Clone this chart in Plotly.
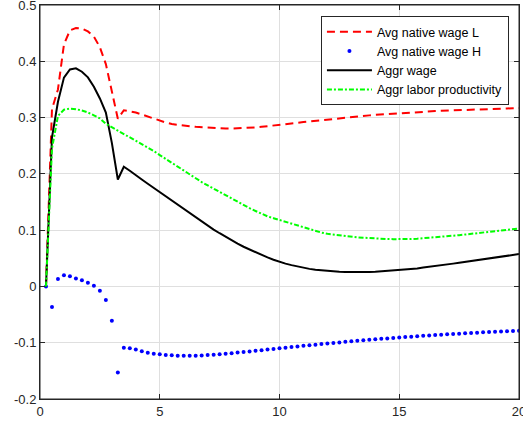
import plotly.graph_objects as go

t = [0.25, 0.5, 0.75, 1.0, 1.25, 1.5, 1.75, 2.0, 2.25, 2.5, 2.75, 3.0, 3.25, 3.5, 3.75, 4.0,
     4.25, 4.5, 4.75, 5.0, 5.25, 5.5, 5.75, 6.0, 6.25, 6.5, 6.75, 7.0, 7.25, 7.5, 7.75, 8.0,
     8.25, 8.5, 8.75, 9.0, 9.25, 9.5, 9.75, 10.0, 10.25, 10.5, 10.75, 11.0, 11.25, 11.5, 11.75, 12.0,
     12.25, 12.5, 12.75, 13.0, 13.25, 13.5, 13.75, 14.0, 14.25, 14.5, 14.75, 15.0, 15.25, 15.5, 15.75, 16.0,
     16.25, 16.5, 16.75, 17.0, 17.25, 17.5, 17.75, 18.0, 18.25, 18.5, 18.75, 19.0, 19.25, 19.5, 19.75, 20.0]

wage_L = [0.0, 0.315, 0.35, 0.43, 0.455, 0.459, 0.458, 0.453, 0.444, 0.425, 0.395, 0.345, 0.298, 0.313, 0.3115, 0.309,
          0.3055, 0.302, 0.298, 0.294, 0.2912, 0.2885, 0.2868, 0.2855, 0.2845, 0.2835, 0.2827, 0.282, 0.2814, 0.2808, 0.2806, 0.2805,
          0.2807, 0.281, 0.2817, 0.2825, 0.2835, 0.2845, 0.2857, 0.287, 0.2882, 0.2895, 0.2907, 0.292, 0.2932, 0.2945, 0.2957, 0.2968,
          0.2979, 0.299, 0.300, 0.301, 0.302, 0.303, 0.3039, 0.3048, 0.3056, 0.3064, 0.3072, 0.308, 0.3087, 0.3093, 0.3099, 0.3105,
          0.311, 0.3115, 0.312, 0.3125, 0.313, 0.3134, 0.3138, 0.3142, 0.3146, 0.315, 0.3153, 0.3156, 0.3159, 0.3162, 0.3165, 0.3168]

wage_H = [0.0, -0.0366, 0.013, 0.020, 0.018, 0.0143, 0.0108, 0.0066, 0.0013, -0.0076, -0.024, -0.061, -0.153, -0.109, -0.110, -0.112,
          -0.115, -0.118, -0.1195, -0.1207, -0.122, -0.1224, -0.123, -0.1232, -0.1232, -0.123, -0.1227, -0.122, -0.1213, -0.1205, -0.1196, -0.1186,
          -0.1176, -0.1165, -0.1154, -0.1143, -0.1132, -0.1121, -0.111, -0.1099, -0.1088, -0.1077, -0.1066, -0.1055, -0.1044, -0.1034, -0.1024, -0.1014,
          -0.1004, -0.0994, -0.0984, -0.0975, -0.0966, -0.0957, -0.0948, -0.0939, -0.0931, -0.0923, -0.0915, -0.0907, -0.0899, -0.0892, -0.0885, -0.0878,
          -0.0871, -0.0864, -0.0857, -0.0851, -0.0845, -0.0839, -0.0833, -0.0827, -0.0821, -0.0816, -0.0811, -0.0806, -0.0801, -0.0796, -0.0791, -0.0786]

aggr_wage = [0.0, 0.265, 0.328, 0.371, 0.3856, 0.3874, 0.3814, 0.3714, 0.3547, 0.334, 0.309, 0.255, 0.19, 0.2126, 0.2055, 0.197,
             0.190, 0.1825, 0.175, 0.1675, 0.16, 0.152, 0.1445, 0.137, 0.1297, 0.1225, 0.115, 0.108, 0.101, 0.0945, 0.088, 0.082,
             0.076, 0.0705, 0.0655, 0.0605, 0.056, 0.0515, 0.0475, 0.0435, 0.0405, 0.0378, 0.0353, 0.033, 0.0312, 0.0297, 0.0285, 0.0275,
             0.0267, 0.0261, 0.0257, 0.0255, 0.0254, 0.0255, 0.0257, 0.026, 0.0267, 0.0275, 0.0282, 0.029, 0.030, 0.031, 0.032, 0.0335,
             0.0347, 0.036, 0.0375, 0.039, 0.0405, 0.042, 0.0435, 0.045, 0.0465, 0.048, 0.0495, 0.051, 0.0525, 0.054, 0.0557, 0.0575]

labor_prod = [0.0, 0.245, 0.303, 0.314, 0.316, 0.315, 0.3125, 0.309, 0.304, 0.2985, 0.289, 0.283, 0.277, 0.271, 0.265, 0.259,
              0.253, 0.247, 0.2405, 0.2334, 0.2265, 0.2195, 0.2125, 0.2055, 0.1985, 0.191, 0.1855, 0.1795, 0.1735, 0.168, 0.162, 0.1565,
              0.1505, 0.1445, 0.139, 0.134, 0.1292, 0.1245, 0.1212, 0.118, 0.1145, 0.111, 0.1077, 0.1045, 0.1012, 0.098, 0.0957, 0.0935,
              0.092, 0.0905, 0.0892, 0.088, 0.0872, 0.0865, 0.0857, 0.085, 0.0846, 0.0843, 0.084, 0.0838, 0.0839, 0.0842, 0.0848, 0.0855,
              0.0863, 0.0872, 0.0881, 0.089, 0.09, 0.091, 0.0922, 0.0935, 0.0947, 0.096, 0.0972, 0.0985, 0.0996, 0.1008, 0.1019, 0.103]

x_ticks = [0, 5, 10, 15, 20]
x_tick_labels = ["0", "5", "10", "15", "20"]
y_ticks = [-0.2, -0.1, 0, 0.1, 0.2, 0.3, 0.4, 0.5]
y_tick_labels = ["-0.2", "-0.1", "0", "0.1", "0.2", "0.3", "0.4", "0.5"]

fig = go.Figure()
fig.add_trace(go.Scatter(x=t, y=wage_L, mode="lines", name="Avg native wage L",
                         line=dict(color="#ff0000", width=2, dash="8px,5px")))
fig.add_trace(go.Scatter(x=t, y=wage_H, mode="markers", name="Avg native wage H",
                         marker=dict(color="#0000ff", size=4)))
fig.add_trace(go.Scatter(x=t, y=aggr_wage, mode="lines", name="Aggr wage",
                         line=dict(color="#000000", width=2)))
fig.add_trace(go.Scatter(x=t, y=labor_prod, mode="lines", name="Aggr labor productivity",
                         line=dict(color="#00ff00", width=2, dash="5px,2px,2px,2px")))

axis_common = dict(showgrid=True, gridcolor="#dfdfdf", gridwidth=1,
                   showline=True, linecolor="#262626", linewidth=1, mirror="allticks",
                   ticks="inside", ticklen=5, tickcolor="#262626",
                   tickfont=dict(family="Liberation Sans, Arial, sans-serif", size=13, color="#262626"),
                   zeroline=False, automargin=False, ticklabeloverflow="allow")

fig.update_layout(
    width=523, height=428,
    margin=dict(l=40, r=4, t=5, b=29),
    paper_bgcolor="white", plot_bgcolor="white",
    xaxis=dict(range=[0, 20], tickvals=x_ticks, ticktext=x_tick_labels, **axis_common),
    yaxis=dict(range=[-0.2, 0.5], tickvals=y_ticks, ticktext=y_tick_labels, **axis_common),
    legend=dict(x=0.979, y=0.972, xanchor="right", yanchor="top",
                bgcolor="white", bordercolor="#262626", borderwidth=1,
                font=dict(family="Liberation Sans, Arial, sans-serif", size=12.5, color="#000000"),
                tracegroupgap=0, itemwidth=45),
    showlegend=True,
    shapes=[dict(type="rect", xref="paper", yref="paper", x0=0, y0=0, x1=1, y1=1,
                 line=dict(color="#262626", width=1), fillcolor="rgba(0,0,0,0)", layer="above")],
)

fig.write_html("out.html", config={"displayModeBar": False},
               post_script="document.body.style.margin='0';document.body.style.padding='0';document.body.style.overflow='hidden';")
